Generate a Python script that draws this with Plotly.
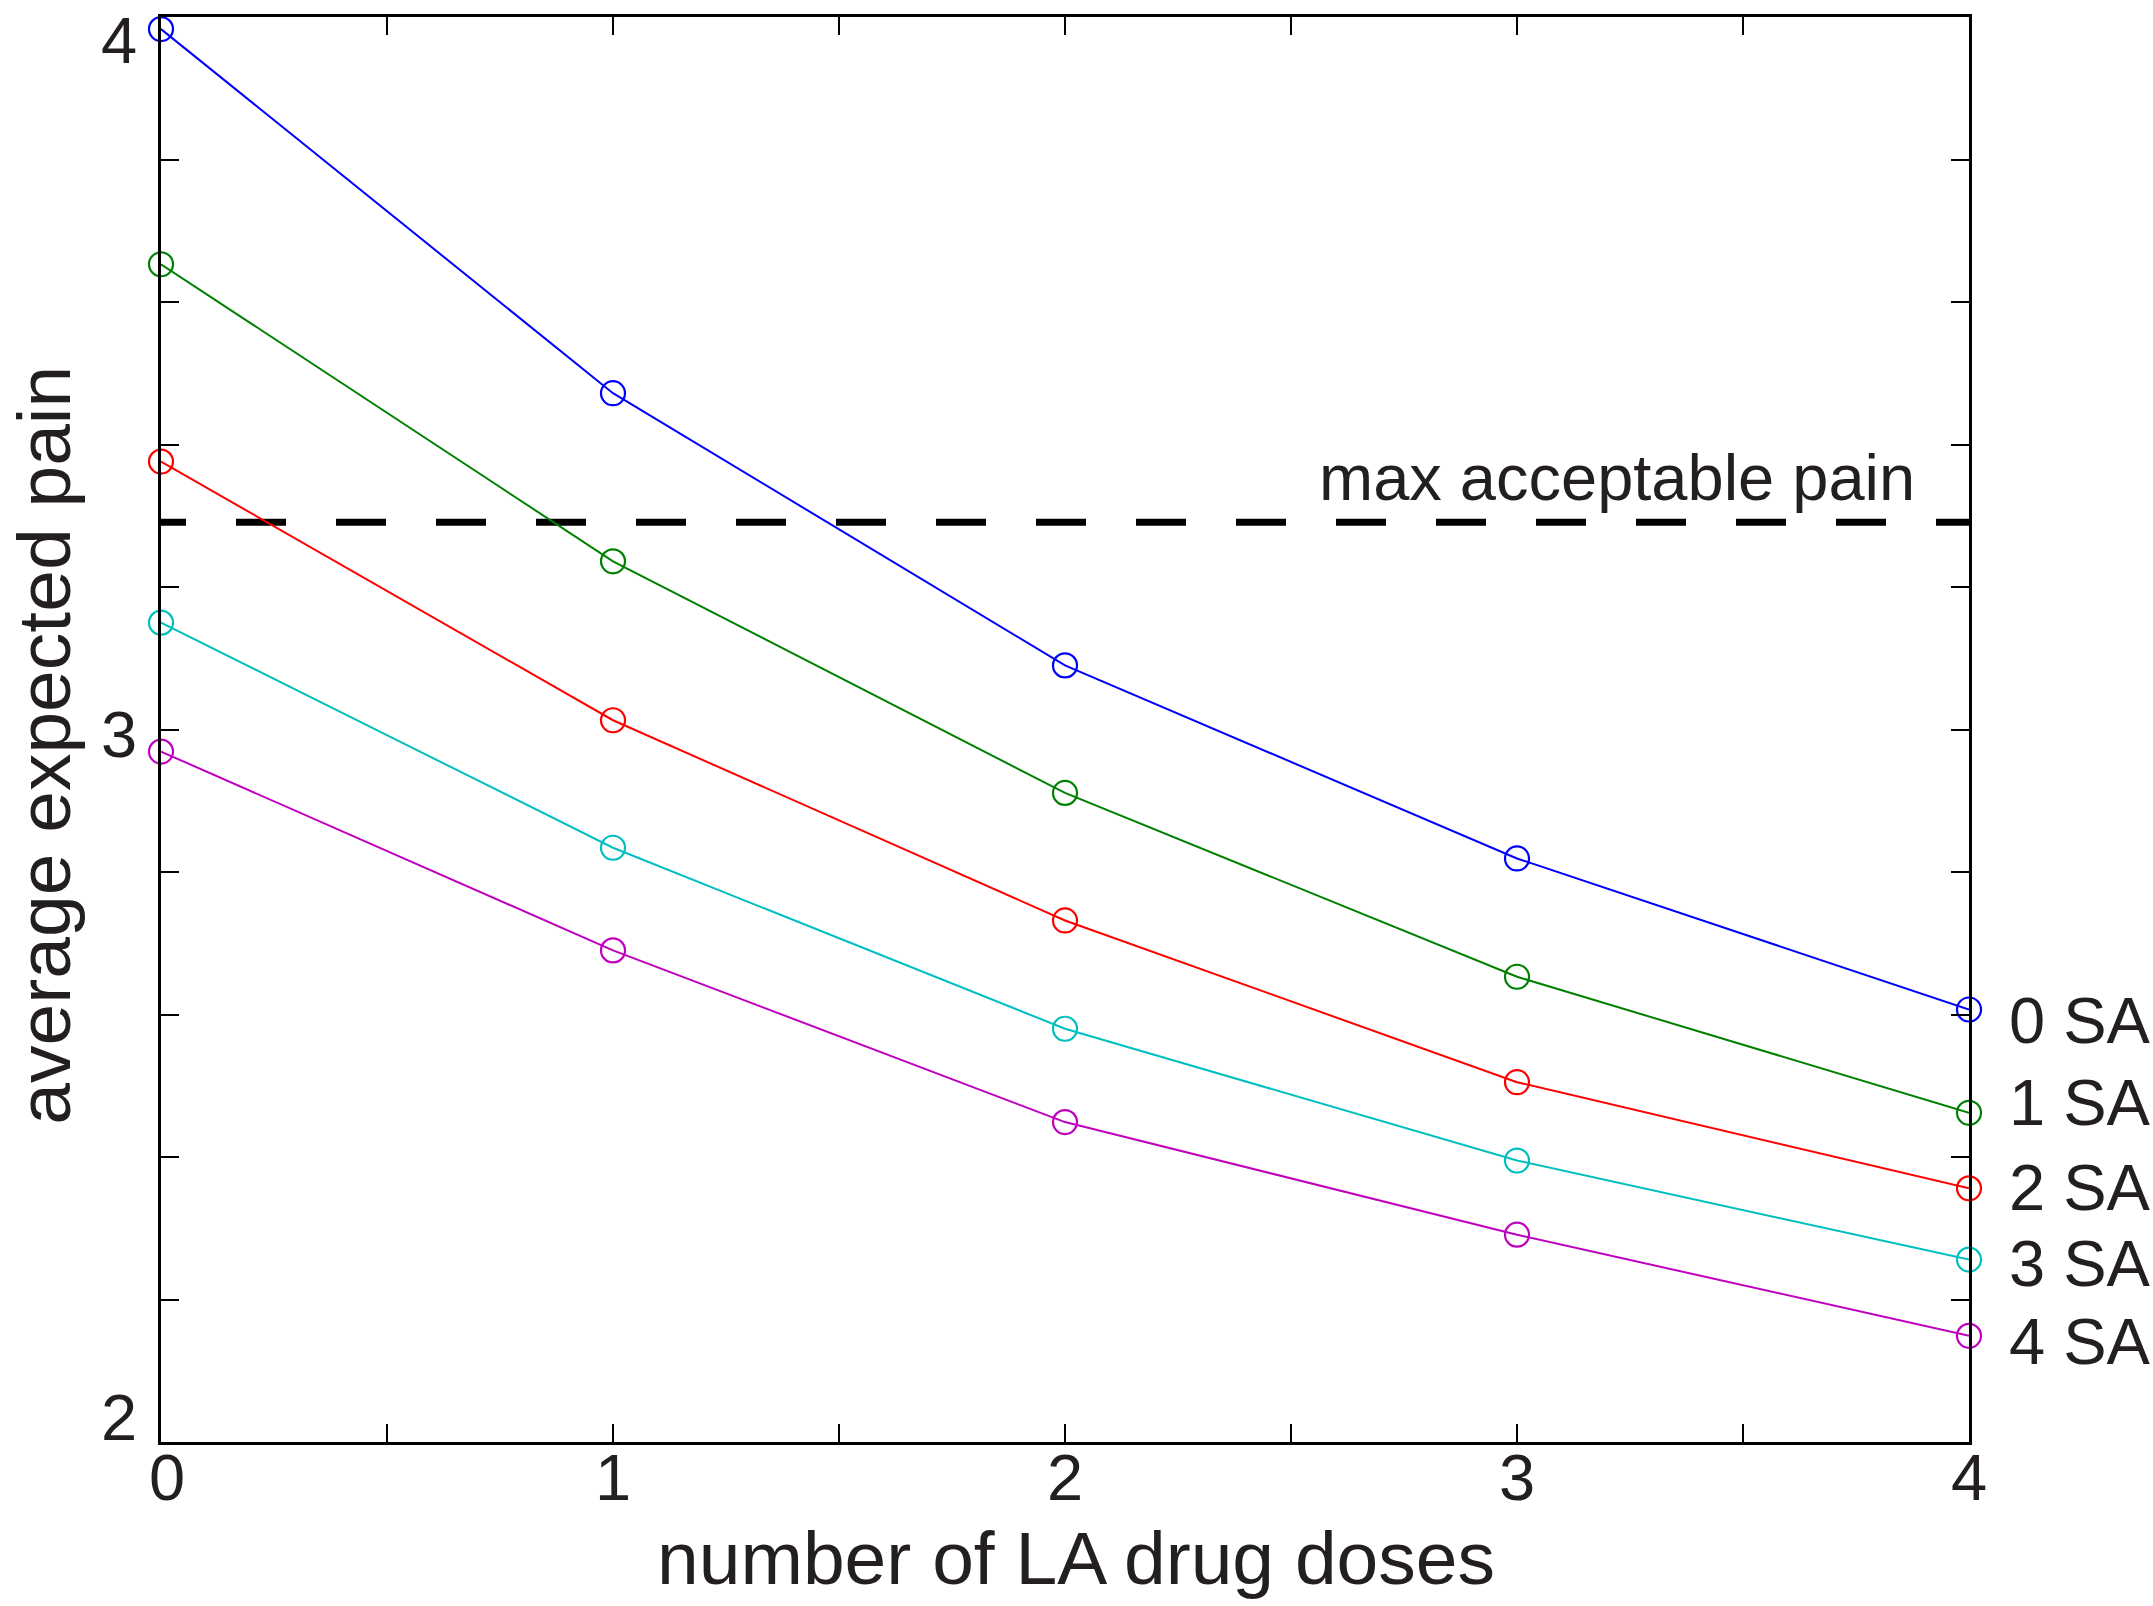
import plotly.graph_objects as go

# ---- data ----
la_doses = [0, 1, 2, 3, 4]
series_names = ["0 SA", "1 SA", "2 SA", "3 SA", "4 SA"]
pain_0sa = [3.983, 3.472, 3.090, 2.819, 2.607]
pain_1sa = [3.653, 3.236, 2.911, 2.653, 2.462]
pain_2sa = [3.376, 3.013, 2.732, 2.505, 2.356]
pain_3sa = [3.150, 2.834, 2.580, 2.395, 2.256]
pain_4sa = [2.969, 2.690, 2.449, 2.291, 2.149]
max_acceptable_pain = 3.291

x_tick_vals = [0, 0.5, 1, 1.5, 2, 2.5, 3, 3.5, 4]
x_label_vals = [0, 1, 2, 3, 4]
x_label_text = ["0", "1", "2", "3", "4"]
y_tick_vals = [2, 2.2, 2.4, 2.6, 2.8, 3, 3.2, 3.4, 3.6, 3.8, 4]
y_label_vals = [2, 3, 4]
y_label_text = ["2", "3", "4"]

# ---- styles ----
colors = ["#0000FF", "#008000", "#FF0000", "#00BFBF", "#BF00BF"]
label_yshift = [-11, 10, 1, -4, -6]
y_label_shift = [25, -5, 15]
y_label_anchor = ["middle", "middle", "top"]
x_label_xshift = [6, 0, 0, 0, 0]
FONT = "Liberation Sans, Arial, Helvetica, sans-serif"
TXT = "#231f20"

W, H = 2153, 1606
L, R, T, B = 160.6, 184, 16.5, 164
plot_w = W - L - R
plot_h = H - T - B

series = [pain_0sa, pain_1sa, pain_2sa, pain_3sa, pain_4sa]

fig = go.Figure()

# dashed reference line (starts half-dash before the axis, clipped)
dash_phase = 25 / (plot_w / 4.0)
fig.add_trace(go.Scatter(
    x=[la_doses[0] - dash_phase, la_doses[-1]],
    y=[max_acceptable_pain, max_acceptable_pain],
    mode="lines",
    line=dict(color="black", width=7, dash="50px,50px"),
    hoverinfo="skip", showlegend=False,
))

for name, vals, c in zip(series_names, series, colors):
    fig.add_trace(go.Scatter(
        x=la_doses, y=vals, mode="lines+markers", name=name,
        line=dict(color=c, width=2),
        marker=dict(symbol="circle-open", size=24, color=c, line=dict(width=2.2, color=c)),
        cliponaxis=False, showlegend=False,
    ))

annotations = []
for name, vals, c, ys in zip(series_names, series, colors, label_yshift):
    annotations.append(dict(
        x=la_doses[-1], y=vals[-1], xref="x", yref="y",
        text=name, showarrow=False, xanchor="left", yanchor="middle",
        xshift=38, yshift=ys, font=dict(family=FONT, size=65, color=TXT),
    ))

for v, t, ys, ya in zip(y_label_vals, y_label_text, y_label_shift, y_label_anchor):
    annotations.append(dict(
        x=0, y=v, xref="paper", yref="y", text=t, showarrow=False,
        xanchor="right", yanchor=ya, xshift=-22, yshift=ys,
        font=dict(family=FONT, size=65, color=TXT),
    ))

for v, t, xs in zip(x_label_vals, x_label_text, x_label_xshift):
    annotations.append(dict(
        x=v, y=0, xref="x", yref="paper", text=t, showarrow=False,
        xanchor="center", yanchor="middle", xshift=xs, yshift=-35,
        font=dict(family=FONT, size=65, color=TXT),
    ))

annotations.append(dict(
    x=la_doses[-1], y=max_acceptable_pain, xref="x", yref="y",
    text="max acceptable pain", showarrow=False, xanchor="right", yanchor="bottom",
    xshift=-52, yshift=6, font=dict(family=FONT, size=65, color=TXT),
))

annotations.append(dict(
    x=(1076 - L) / plot_w, y=-(1558 - (H - B)) / plot_h, xref="paper", yref="paper",
    text="number of LA drug doses", showarrow=False, xanchor="center", yanchor="middle",
    font=dict(family=FONT, size=75, color=TXT),
))
annotations.append(dict(
    x=(44 - L) / plot_w, y=1 - (745 - T) / plot_h, xref="paper", yref="paper",
    text="average expected pain", showarrow=False, xanchor="center", yanchor="middle",
    textangle=-90, font=dict(family=FONT, size=75, color=TXT),
))

axis_common = dict(
    showgrid=False, zeroline=False, showline=True, linecolor="black", linewidth=2.5,
    mirror="ticks", ticks="inside", ticklen=18, tickwidth=2, tickcolor="black",
)

fig.update_layout(
    width=W, height=H,
    margin=dict(l=L, r=R, t=T, b=B, autoexpand=False),
    paper_bgcolor="white", plot_bgcolor="white",
    xaxis=dict(range=[0, 4], tickvals=x_tick_vals, showticklabels=False, **axis_common),
    yaxis=dict(range=[2, 4], tickvals=y_tick_vals, showticklabels=False, **axis_common),
    annotations=annotations,
    showlegend=False,
)

fig.write_html("out.html")
